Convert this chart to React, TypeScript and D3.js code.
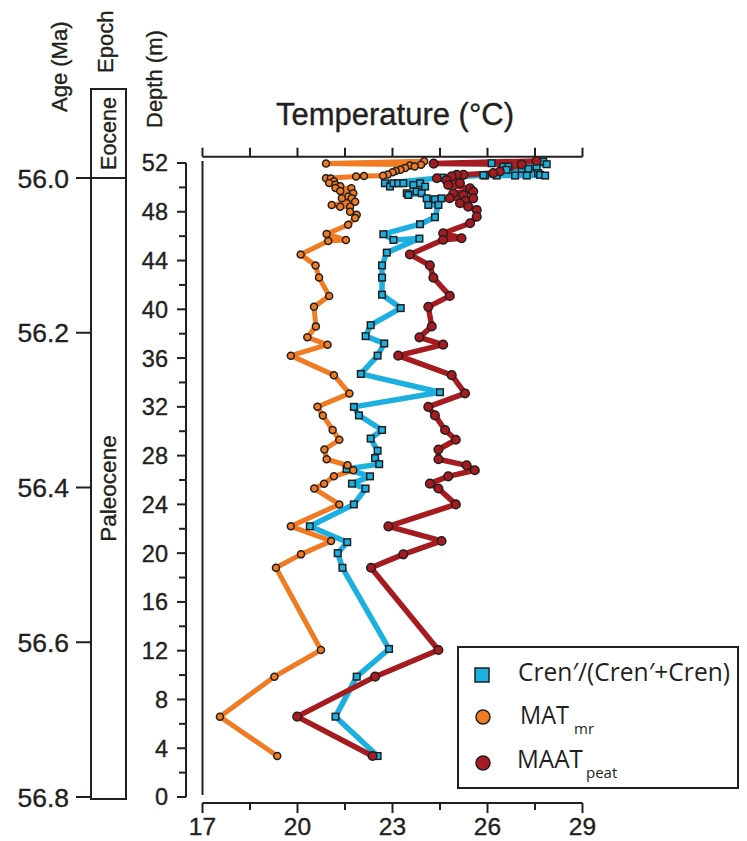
import React from "react";
import * as d3 from "d3";

// ---- data (depth in m, temperature in °C) ----
const matDepth = [52.15, 51.95, 51.85, 51.8, 51.72, 51.6, 51.45, 51.35, 51.25, 51.05, 50.95, 50.93, 50.9, 50.75, 50.72, 50.5, 50.35, 50.22, 50.1, 49.95, 49.93, 49.7, 49.52, 49.25, 49.11, 49.1, 48.83, 48.56, 48.42, 48.42, 48.0, 47.75, 47.48, 46.94, 46.18, 45.68, 45.6, 44.5, 43.6, 42.6, 41.1, 40.2, 38.6, 37.7, 37.1, 36.2, 34.6, 33.1, 32.0, 31.3, 30.1, 29.3, 28.5, 27.7, 27.2, 26.8, 26.3, 25.7, 25.3, 24.0, 22.2, 21.0, 19.9, 18.8, 12.06, 9.87, 6.59, 3.36];
const matTemp = [24.0, 20.9, 23.9, 23.55, 23.7, 23.4, 23.25, 23.1, 23.0, 22.85, 22.7, 22.1, 21.85, 20.9, 21.05, 21.15, 21.0, 21.2, 21.35, 21.2, 21.7, 21.35, 21.76, 21.6, 21.4, 21.71, 21.82, 21.08, 21.35, 21.66, 21.66, 21.87, 21.82, 21.6, 20.92, 21.53, 20.97, 20.1, 20.57, 20.68, 21.0, 20.52, 20.58, 20.31, 20.95, 19.79, 21.15, 21.64, 20.63, 20.8, 21.11, 21.32, 20.85, 20.92, 21.58, 21.76, 21.15, 20.84, 20.53, 21.32, 19.79, 21.06, 20.11, 19.32, 20.74, 19.27, 17.55, 19.36];

const crenDepth = [52.12, 51.98, 51.9, 51.7, 51.7, 51.63, 51.52, 51.52, 51.44, 51.17, 51.03, 50.97, 50.97, 50.97, 50.97, 50.97, 51.0, 50.8, 50.34, 50.07, 50.34, 50.34, 50.34, 50.2, 50.34, 50.07, 49.66, 49.52, 49.38, 49.52, 49.1, 49.03, 49.1, 48.56, 48.56, 47.55, 46.98, 46.16, 45.69, 45.8, 44.65, 43.6, 42.6, 41.2, 40.1, 38.7, 37.8, 37.2, 36.2, 34.7, 33.2, 32.0, 31.3, 30.1, 29.4, 28.4, 27.8, 27.3, 26.9, 26.3, 25.7, 25.3, 24.0, 22.2, 20.9, 20.0, 18.8, 12.14, 9.87, 6.59, 3.36];
const crenTemp = [27.76, 26.13, 27.87, 26.5, 26.66, 27.55, 27.08, 27.29, 26.6, 27.6, 27.66, 27.82, 27.24, 26.87, 26.29, 25.92, 25.87, 24.58, 22.76, 22.92, 23.03, 23.18, 23.34, 23.66, 23.87, 24.03, 23.76, 23.45, 23.5, 23.92, 24.08, 24.34, 24.55, 24.13, 24.45, 24.34, 23.87, 22.71, 23.03, 23.85, 22.82, 22.67, 22.67, 22.67, 23.26, 22.31, 22.15, 22.74, 22.53, 22.0, 24.5, 21.78, 21.94, 22.67, 22.31, 22.53, 22.45, 22.58, 21.55, 22.29, 21.72, 22.15, 21.78, 20.39, 21.57, 21.27, 21.42, 22.89, 21.87, 21.2, 22.53];

const maatDepth = [52.17, 51.95, 51.88, 51.3, 51.17, 51.03, 51.03, 50.9, 50.75, 50.6, 50.35, 50.2, 49.93, 49.66, 49.52, 49.38, 49.11, 49.1, 48.9, 48.7, 48.42, 48.15, 47.6, 47.06, 46.24, 45.83, 45.7, 44.5, 43.6, 42.6, 41.1, 40.2, 38.6, 37.7, 37.1, 36.2, 34.6, 33.1, 32.0, 31.3, 30.1, 29.3, 28.5, 27.7, 27.2, 26.8, 26.3, 25.7, 25.3, 24.0, 22.2, 21.0, 19.9, 18.8, 12.06, 9.87, 6.59, 3.36];
const maatTemp = [27.55, 24.3, 27.08, 26.39, 26.18, 25.24, 25.03, 24.87, 24.4, 24.7, 25.13, 24.76, 25.45, 25.55, 24.92, 25.24, 24.81, 25.55, 25.3, 25.13, 25.39, 25.66, 25.66, 25.45, 24.6, 25.18, 24.6, 23.55, 24.18, 24.29, 24.81, 24.13, 24.24, 23.85, 24.6, 23.18, 24.87, 25.29, 24.13, 24.34, 24.66, 25.0, 24.45, 24.45, 25.34, 25.6, 24.76, 24.18, 24.45, 25.0, 22.87, 24.55, 23.34, 22.32, 24.45, 22.45, 19.99, 22.37];

const tempTicks = [17, 20, 23, 26, 29];
const tempMinorTicks = [18.5, 21.5, 24.5, 27.5];
const depthTicks = [0, 4, 8, 12, 16, 20, 24, 28, 32, 36, 40, 44, 48, 52];
const depthMinorTicks = [2, 6, 10, 14, 18, 22, 26, 30, 34, 38, 42, 46, 50];
const ageTicks = [56.0, 56.2, 56.4, 56.6, 56.8];
const epochs = ["Eocene", "Paleocene"];

const ORANGE = "#F07B22";
const BLUE = "#1BB0E0";
const RED = "#A51B1F";
const INK = "#231F20";
const FONT = "'Liberation Sans', Arial, sans-serif";
const LEG_FONT = "'Open Sans', 'Noto Sans', sans-serif";

export default function App() {
  const x = d3.scaleLinear().domain([17, 29]).range([202.5, 582.5]);
  const y = d3.scaleLinear().domain([0, 52]).range([797, 163]);
  const age = d3.scaleLinear().domain([56.0, 56.8]).range([178, 797]);

  const mk = (dep: number[], tmp: number[]) => dep.map((d, i) => [tmp[i], d] as [number, number]);
  const mat = mk(matDepth, matTemp);
  const cren = mk(crenDepth, crenTemp);
  const maat = mk(maatDepth, maatTemp);

  const line = d3
    .line<[number, number]>()
    .x((p) => x(p[0]))
    .y((p) => y(p[1]))
    .curve(d3.curveLinear);

  const topY = 156.7;
  const botY = 803;
  const depthAxisX = 186;
  const txt = { fill: INK, stroke: INK, strokeWidth: 0.35 };

  return (
    <svg width={747} height={841} style={{ display: "block", position: "absolute", left: 0, top: 0, background: "#fff" }}>
      {/* Rotated column headers */}
      <text transform="translate(67,112) rotate(-90)" fontFamily={FONT} fontSize={22} {...txt}>Age (Ma)</text>
      <text transform="translate(113,73) rotate(-90)" fontFamily={FONT} fontSize={22} {...txt}>Epoch</text>
      <text transform="translate(162,128) rotate(-90)" fontFamily={FONT} fontSize={22} {...txt}>Depth (m)</text>

      {/* Title */}
      <text x={395} y={125} textAnchor="middle" fontFamily={FONT} fontSize={31} {...txt}>Temperature (°C)</text>

      {/* Epoch box */}
      <rect x={91} y={89} width={35} height={710} fill="none" stroke={INK} strokeWidth={2} />
      <line x1={91} x2={126} y1={age(56.0)} y2={age(56.0)} stroke={INK} strokeWidth={2} />
      <text transform={`translate(116,${(89 + age(56.0)) / 2}) rotate(-90)`} textAnchor="middle" fontFamily={FONT} fontSize={21.5} {...txt}>{epochs[0]}</text>
      <text transform={`translate(116,${(age(56.0) + 799) / 2}) rotate(-90)`} textAnchor="middle" fontFamily={FONT} fontSize={22.5} {...txt}>{epochs[1]}</text>

      {/* Age axis */}
      {ageTicks.map((a) => (
        <g key={a}>
          <line x1={76} x2={91} y1={age(a)} y2={age(a)} stroke={INK} strokeWidth={2} />
          <text x={69} y={age(a)} dy="0.36em" textAnchor="end" fontFamily={FONT} fontSize={26.5} {...txt}>{a.toFixed(1)}</text>
        </g>
      ))}

      {/* Depth axis */}
      <line x1={depthAxisX} x2={depthAxisX} y1={y(52)} y2={y(0)} stroke={INK} strokeWidth={2} />
      {depthTicks.map((d) => (
        <g key={d}>
          <line x1={depthAxisX - 9} x2={depthAxisX} y1={y(d)} y2={y(d)} stroke={INK} strokeWidth={2} />
          <text x={168} y={y(d)} dy="0.36em" textAnchor="end" fontFamily={FONT} fontSize={23.5} {...txt}>{d}</text>
        </g>
      ))}
      {depthMinorTicks.map((d) => (
        <line key={d} x1={depthAxisX - 7} x2={depthAxisX} y1={y(d)} y2={y(d)} stroke={INK} strokeWidth={2} />
      ))}

      {/* Plot left frame line */}
      <line x1={202.5} x2={202.5} y1={161} y2={795} stroke={INK} strokeWidth={2} />

      {/* Top axis */}
      <line x1={x(17)} x2={x(29)} y1={topY} y2={topY} stroke={INK} strokeWidth={2} />
      {[...tempTicks, ...tempMinorTicks].map((t) => (
        <line key={t} x1={x(t)} x2={x(t)} y1={topY - 9} y2={topY} stroke={INK} strokeWidth={2} />
      ))}

      {/* Bottom axis */}
      <line x1={x(17)} x2={x(29)} y1={botY} y2={botY} stroke={INK} strokeWidth={2} />
      {tempTicks.map((t) => (
        <g key={t}>
          <line x1={x(t)} x2={x(t)} y1={botY} y2={botY + 10} stroke={INK} strokeWidth={2} />
          <text x={x(t)} y={835} textAnchor="middle" fontFamily={FONT} fontSize={24.5} {...txt}>{t}</text>
        </g>
      ))}
      {tempMinorTicks.map((t) => (
        <line key={t} x1={x(t)} x2={x(t)} y1={botY} y2={botY + 7} stroke={INK} strokeWidth={2} />
      ))}

      {/* Lines */}
      <path d={line(cren) || ""} fill="none" stroke={BLUE} strokeWidth={5.5} strokeLinejoin="round" />
      <path d={line(maat) || ""} fill="none" stroke={RED} strokeWidth={5.5} strokeLinejoin="round" />
      <path d={line(mat) || ""} fill="none" stroke={ORANGE} strokeWidth={5} strokeLinejoin="round" />

      {/* Points */}
      {cren.map((p, i) => (
        <rect key={"c" + i} x={x(p[0]) - 3.3} y={y(p[1]) - 3.3} width={6.6} height={6.6} fill={BLUE} stroke={INK} strokeWidth={1.5} />
      ))}
      {maat.map((p, i) => (
        <circle key={"r" + i} cx={x(p[0])} cy={y(p[1])} r={4.3} fill={RED} stroke={INK} strokeWidth={1.5} />
      ))}
      {mat.map((p, i) => (
        <circle key={"o" + i} cx={x(p[0])} cy={y(p[1])} r={3.5} fill={ORANGE} stroke={INK} strokeWidth={1.5} />
      ))}

      {/* Legend */}
      <rect x={458} y={647} width={280} height={141} fill="#fff" stroke={INK} strokeWidth={2} />
      <rect x={475} y={668} width={14} height={14} fill={BLUE} stroke={INK} strokeWidth={1.5} />
      <text x={518} y={681} fontFamily={LEG_FONT} fontSize={25} fill={INK} textLength={212} lengthAdjust="spacingAndGlyphs">Cren′/(Cren′+Cren)</text>
      <circle cx={483} cy={717} r={7} fill={ORANGE} stroke={INK} strokeWidth={1.5} />
      <text x={520} y={724} fontFamily={LEG_FONT} fontSize={26} fill={INK} textLength={49} lengthAdjust="spacingAndGlyphs">MAT</text>
      <text x={574} y={734} fontFamily={LEG_FONT} fontSize={15} fill={INK}>mr</text>
      <circle cx={483} cy={763} r={7} fill={RED} stroke={INK} strokeWidth={1.5} />
      <text x={517} y={768} fontFamily={LEG_FONT} fontSize={26} fill={INK} textLength={66} lengthAdjust="spacingAndGlyphs">MAAT</text>
      <text x={586} y={778} fontFamily={LEG_FONT} fontSize={15} fill={INK}>peat</text>
    </svg>
  );
}
